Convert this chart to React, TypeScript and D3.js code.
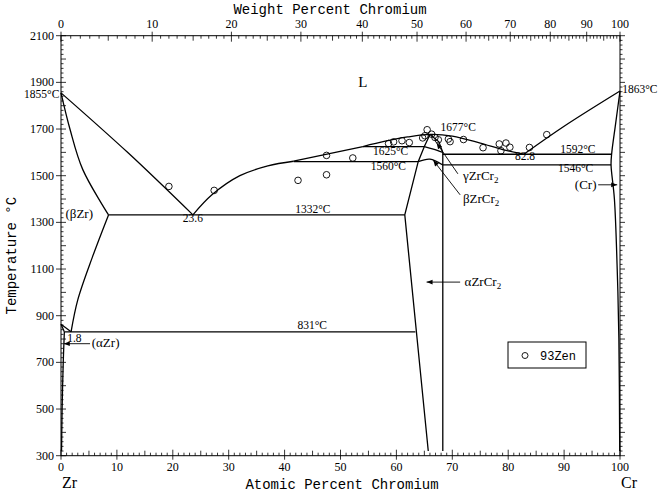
import React from 'react';
import * as d3 from 'd3';

// Zr-Cr phase diagram (atomic % Cr vs temperature)
const W = 661, H = 493;

const liquidusZr: [number, number][] = [[0, 1855], [12, 1598], [23.6, 1332]];
const liquidusMid: [number, number][] = [[23.6, 1332], [27, 1418], [32, 1500], [37, 1542], [41.6, 1562]];
const liquidusPeri: [number, number][] = [[41.6, 1562], [54, 1625]];
const liquidusTop: [number, number][] = [[54, 1625], [58, 1648], [62, 1666], [66, 1677], [70, 1670], [75, 1640], [79, 1612], [82.8, 1592]];
const liquidusCr: [number, number][] = [[82.8, 1592], [90, 1712], [100, 1863]];

const solidusBZr: [number, number][] = [[0, 1855], [1.6, 1700], [3.9, 1526], [8.5, 1332]];
const solvusBZr: [number, number][] = [[8.5, 1332], [5.6, 1150], [3.0, 968], [1.8, 831]];
const transBZr: [number, number][] = [[0, 863], [1.8, 831]];
const transAZr: [number, number][] = [[0, 863], [0.6, 831]];
const solvusAZr: [number, number][] = [[0.6, 831], [0.4, 700], [0.2, 500], [0.1, 320]];

const zrcr2Left: [number, number][] = [[65.7, 320], [61.5, 1332], [63.9, 1560], [65.0, 1625], [66.0, 1677]];
const zrcr2Right: [number, number][] = [[66.0, 1677], [67.6, 1645], [68.3, 1600], [68.3, 320]];
const gammaBeta: [number, number][] = [[65.0, 1625], [66.6, 1614], [68.3, 1600]];
const betaAlpha: [number, number][] = [[63.9, 1560], [66.0, 1571], [68.3, 1546]];

const solvusCr: [number, number][] = [[100, 1863], [99.2, 1720], [98.5, 1592], [98.4, 1546], [99.0, 1400], [99.5, 1100], [99.8, 800], [99.95, 320]];

// isotherms: [from, to, temperature]
const isotherms: [number, number, number][] = [
  [8.5, 61.5, 1332],
  [0.6, 63.4, 831],
  [41.6, 63.9, 1560],
  [54, 65.0, 1625],
  [68.3, 98.5, 1592],
  [68.3, 98.4, 1546],
];

// 93Zen thermal analysis points
const zenPoints: [number, number][] = [
  [19.3, 1454], [27.4, 1437], [42.4, 1480], [47.5, 1504], [47.5, 1587], [52.2, 1576],
  [58.6, 1638], [59.5, 1645], [61.0, 1650], [62.3, 1642], [64.7, 1662], [65.1, 1671],
  [65.5, 1697], [66.3, 1678], [66.9, 1664], [67.5, 1654], [69.3, 1657], [69.6, 1646],
  [72.0, 1655], [75.5, 1620], [78.4, 1636], [79.6, 1640], [80.3, 1622], [78.7, 1607],
  [83.8, 1621], [86.9, 1676],
];

// [text, at%, T, anchor, size]
const labels: [string, number, number, string, number][] = [
  ['1855°C', -0.3, 1832, 'end', 11.5],
  ['1863°C', 100.4, 1855, 'start', 11.5],
  ['1677°C', 67.9, 1690, 'start', 11.5],
  ['1625°C', 55.8, 1590, 'start', 11.5],
  ['1560°C', 55.4, 1525, 'start', 11.5],
  ['1592°C', 89.3, 1597, 'start', 11.5],
  ['82.8', 81.2, 1569, 'start', 11.5],
  ['1546°C', 88.9, 1517, 'start', 11.5],
  ['23.6', 23.6, 1300, 'middle', 11.5],
  ['1332°C', 41.9, 1342, 'start', 11.5],
  ['831°C', 42.3, 841, 'start', 11.5],
  ['1.8', 1.1, 787, 'start', 11.5],
  ['(βZr)', 0.8, 1317, 'start', 13],
  ['(αZr)', 5.5, 765, 'start', 13],
  ['(Cr)', 95.8, 1443, 'end', 13],
  ['L', 54.0, 1880, 'middle', 15],
];

// [label, tail at%, tail T, tip at%, tip T, label at%, label T]
const arrows: [string, number, number, number, number, number, number][] = [
  ['γ', 71.0, 1508, 67.2, 1640, 71.9, 1482],
  ['β', 71.4, 1418, 66.6, 1566, 71.9, 1384],
  ['α', 71.4, 1044, 65.4, 1044, 72.2, 1028],
];
const elementArrows: [number, number, number, number][] = [
  [96.1, 1461, 99.5, 1461],
  [5.2, 780, 0.5, 780],
];

const atTicks = d3.range(0, 101, 1);
const wtTicks = d3.range(0, 101, 1);
const tempTicks = d3.range(300, 2101, 20);

const wtToAt = (w: number) => {
  const cr = w / 52.0;
  const zr = (100 - w) / 91.22;
  return (cr / (cr + zr)) * 100;
};

export default function App() {
  const x = d3.scaleLinear().domain([0, 100]).range([61, 620]);
  const y = d3.scaleLinear().domain([300, 2100]).range([455.7, 35.7]);
  const curved = d3.line<[number, number]>().x(d => x(d[0])).y(d => y(d[1])).curve(d3.curveCatmullRom.alpha(0.5));
  const straight = d3.line<[number, number]>().x(d => x(d[0])).y(d => y(d[1]));

  const curves = [liquidusZr, liquidusMid, liquidusTop, liquidusCr, solidusBZr, solvusBZr, solvusAZr, gammaBeta, betaAlpha, solvusCr];
  const lines = [liquidusPeri, transBZr, transAZr, zrcr2Left, zrcr2Right];

  const serif = '"Liberation Serif", "DejaVu Serif", serif';
  const mono = '"Liberation Mono", "DejaVu Sans Mono", monospace';
  const x0 = x(0), x1 = x(100), yTop = y(2100), yBot = y(300);

  return (
    <svg width={W} height={H} style={{ position: 'absolute', left: 0, top: 0, background: '#fff' }}>
      <defs>
        <marker id="ah" viewBox="0 0 10 10" refX="10" refY="5" markerWidth="9" markerHeight="6" orient="auto" markerUnits="userSpaceOnUse">
          <path d="M0,1 L10,5 L0,9 Z" fill="#000" />
        </marker>
      </defs>

      {/* frame */}
      <rect x={x0} y={yTop} width={x1 - x0} height={yBot - yTop} fill="none" stroke="#000" strokeWidth={1} />

      {/* bottom axis */}
      {atTicks.map(a => {
        const len = a % 10 === 0 ? 6 : a % 5 === 0 ? 5 : 3;
        return (
          <line key={'b' + a} x1={x(a)} x2={x(a)} y1={yBot - len} y2={yBot + (a % 10 === 0 ? 4 : 0)} stroke="#000" strokeWidth={0.8} />
        );
      })}
      {atTicks.filter(a => a % 10 === 0).map(a => (
        <text key={'bl' + a} x={x(a)} y={yBot + 15} textAnchor="middle" fontFamily={serif} fontSize={12}>{a}</text>
      ))}

      {/* top axis (weight percent) */}
      {wtTicks.map(w => {
        const len = w % 10 === 0 ? 6 : w % 5 === 0 ? 5 : 3;
        return (
          <line key={'t' + w} x1={x(wtToAt(w))} x2={x(wtToAt(w))} y1={yTop - (w % 10 === 0 ? 4 : 0)} y2={yTop + len} stroke="#000" strokeWidth={0.8} />
        );
      })}
      {wtTicks.filter(w => w % 10 === 0).map(w => (
        <text key={'tl' + w} x={x(wtToAt(w))} y={yTop - 8} textAnchor="middle" fontFamily={serif} fontSize={12}>{w}</text>
      ))}

      {/* left & right axes */}
      {tempTicks.map(t => {
        const labelled = t % 200 === 100;
        const len = t % 100 === 0 || labelled ? 5 : 2.5;
        return (
          <g key={'l' + t}>
            <line x1={x0 - (labelled ? 5 : 0)} x2={x0 + len} y1={y(t)} y2={y(t)} stroke="#000" strokeWidth={0.8} />
            <line x1={x1} x2={x1 + len} y1={y(t)} y2={y(t)} stroke="#000" strokeWidth={0.8} />
          </g>
        );
      })}
      {tempTicks.filter(t => t % 200 === 100).map(t => (
        <text key={'ll' + t} x={x0 - 7} y={y(t) + 4} textAnchor="end" fontFamily={serif} fontSize={12}>{t}</text>
      ))}

      {/* axis titles */}
      <text x={330} y={14} textAnchor="middle" fontFamily={mono} fontSize={14}>Weight Percent Chromium</text>
      <text x={342} y={489} textAnchor="middle" fontFamily={mono} fontSize={14}>Atomic Percent Chromium</text>
      <text transform={`translate(16,${(yTop + yBot) / 2 + 10}) rotate(-90)`} textAnchor="middle" fontFamily={mono} fontSize={14}>Temperature °C</text>
      <text x={62} y={488} fontFamily={serif} fontSize={16}>Zr</text>
      <text x={621} y={488} fontFamily={serif} fontSize={16}>Cr</text>

      {/* phase boundaries */}
      {curves.map((c, i) => (
        <path key={'c' + i} d={curved(c) || ''} fill="none" stroke="#000" strokeWidth={1.3} />
      ))}
      {lines.map((c, i) => (
        <path key={'s' + i} d={straight(c) || ''} fill="none" stroke="#000" strokeWidth={1.3} />
      ))}
      {isotherms.map(([a, b, t], i) => (
        <line key={'i' + i} x1={x(a)} x2={x(b)} y1={y(t)} y2={y(t)} stroke="#000" strokeWidth={1.3} />
      ))}

      {/* data points */}
      {zenPoints.map(([a, t], i) => (
        <circle key={'p' + i} cx={x(a)} cy={y(t)} r={3.3} fill="none" stroke="#000" strokeWidth={0.9} />
      ))}

      {/* arrows */}
      {arrows.map(([g, ta, tt, ha, ht, la, lt], i) => (
        <g key={'a' + i}>
          <line x1={x(ta)} y1={y(tt)} x2={x(ha)} y2={y(ht)} stroke="#000" strokeWidth={0.9} markerEnd="url(#ah)" />
          <text x={x(la)} y={y(lt)} fontFamily={serif} fontSize={13}>
            {g}ZrCr<tspan fontSize={9} dy={3}>2</tspan>
          </text>
        </g>
      ))}
      {elementArrows.map(([ta, tt, ha, ht], i) => (
        <line key={'e' + i} x1={x(ta)} y1={y(tt)} x2={x(ha)} y2={y(ht)} stroke="#000" strokeWidth={0.9} markerEnd="url(#ah)" />
      ))}

      {/* labels */}
      {labels.map(([s, a, t, anchor, size], i) => (
        <text key={'t' + i} x={x(a)} y={y(t)} textAnchor={anchor as any} fontFamily={serif} fontSize={size}>{s}</text>
      ))}

      {/* legend */}
      <rect x={508} y={342} width={78} height={26} fill="#fff" stroke="#000" strokeWidth={1} />
      <circle cx={525} cy={355.5} r={3} fill="none" stroke="#000" strokeWidth={0.9} />
      <text x={540} y={360} fontFamily={mono} fontSize={12}>93Zen</text>
    </svg>
  );
}
